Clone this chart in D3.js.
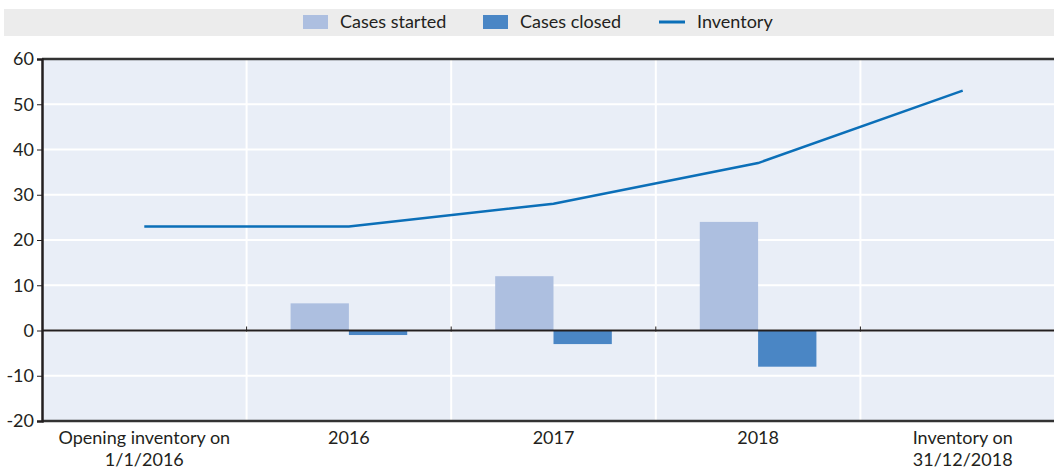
<!DOCTYPE html>
<html>
<head>
<meta charset="utf-8">
<script src="https://cdn.jsdelivr.net/npm/d3@7"></script>
<style>
  body { margin: 0; background: #fff; }
  svg text { font-family: Lato, "Open Sans", sans-serif; fill: #231f20; }
</style>
</head>
<body>
<svg id="chart" width="1054" height="470"></svg>
<script>
var categories = ["Opening inventory on\n1/1/2016", "2016", "2017", "2018", "Inventory on\n31/12/2018"];
var casesStarted = [null, 6, 12, 24, null];
var casesClosed = [null, -1, -3, -8, null];
var inventory = [23, 23, 28, 37, 53];
var yTicks = [-20, -10, 0, 10, 20, 30, 40, 50, 60];

var margin = { top: 59, left: 42 };
var plotW = 1023, plotH = 362;

var svg = d3.select("#chart");

// legend strip
svg.append("rect")
    .attr("x", 4).attr("y", 9)
    .attr("width", 1050).attr("height", 27)
    .attr("fill", "#ececec");

var legend = [
    { name: "Cases started", color: "#adbfe0", type: "box", x: 303 },
    { name: "Cases closed", color: "#4a86c5", type: "box", x: 483 },
    { name: "Inventory", color: "#0b6fb8", type: "line", x: 659 }
];
var lg = svg.selectAll("g.leg").data(legend).enter().append("g")
    .attr("transform", function(d) { return "translate(" + d.x + ",22)"; });
lg.filter(function(d) { return d.type === "box"; }).append("rect")
    .attr("x", 0).attr("y", -7).attr("width", 25).attr("height", 14)
    .attr("fill", function(d) { return d.color; });
lg.filter(function(d) { return d.type === "line"; }).append("line")
    .attr("x1", 0).attr("x2", 26).attr("y1", 0).attr("y2", 0)
    .attr("stroke", function(d) { return d.color; }).attr("stroke-width", 3);
lg.append("text")
    .attr("x", function(d) { return d.type === "box" ? 37 : 38; })
    .attr("y", 6)
    .attr("font-size", "18px")
    .text(function(d) { return d.name; });

var g = svg.append("g").attr("transform", "translate(" + margin.left + "," + margin.top + ")");

var x = d3.scaleBand().domain(d3.range(categories.length)).range([0, plotW]);
var y = d3.scaleLinear().domain([-20, 60]).range([plotH, 0]);

g.append("rect").attr("width", plotW).attr("height", plotH).attr("fill", "#e9eef7");

// horizontal grid
g.selectAll("line.hg").data(yTicks).enter().append("line")
    .attr("x1", 0).attr("x2", plotW)
    .attr("y1", function(d) { return y(d); }).attr("y2", function(d) { return y(d); })
    .attr("stroke", "#fff").attr("stroke-width", 2);

// vertical grid at category boundaries
g.selectAll("line.vg").data(d3.range(1, categories.length)).enter().append("line")
    .attr("x1", function(i) { return x(i); }).attr("x2", function(i) { return x(i); })
    .attr("y1", 0).attr("y2", plotH)
    .attr("stroke", "#fff").attr("stroke-width", 2);

var barW = x.bandwidth() * 0.285;

g.selectAll("rect.started").data(casesStarted).enter()
    .filter(function(d) { return d !== null; })
    .append("rect")
    .attr("x", function(d) { return x(casesStarted.indexOf(d)) + x.bandwidth() / 2 - barW; })
    .attr("y", function(d) { return y(Math.max(0, d)); })
    .attr("width", barW)
    .attr("height", function(d) { return Math.abs(y(d) - y(0)); })
    .attr("fill", "#adbfe0");

g.selectAll("rect.closed").data(casesClosed).enter()
    .filter(function(d) { return d !== null; })
    .append("rect")
    .attr("x", function(d) { return x(casesClosed.indexOf(d)) + x.bandwidth() / 2; })
    .attr("y", function(d) { return y(Math.max(0, d)); })
    .attr("width", barW)
    .attr("height", function(d) { return Math.abs(y(d) - y(0)); })
    .attr("fill", "#4a86c5");

// zero line
g.append("line").attr("x1", 0).attr("x2", plotW)
    .attr("y1", y(0)).attr("y2", y(0))
    .attr("stroke", "#231f20").attr("stroke-width", 2);
g.selectAll("line.zt").data(d3.range(1, categories.length)).enter().append("line")
    .attr("x1", function(i) { return x(i); }).attr("x2", function(i) { return x(i); })
    .attr("y1", y(0) - 4).attr("y2", y(0) + 1)
    .attr("stroke", "#231f20").attr("stroke-width", 1);

// inventory line
var line = d3.line()
    .x(function(d, i) { return x(i) + x.bandwidth() / 2; })
    .y(function(d) { return y(d); });
g.append("path").datum(inventory)
    .attr("d", line)
    .attr("fill", "none")
    .attr("stroke", "#0b6fb8")
    .attr("stroke-width", 2.5);

// frame: top, bottom
g.append("line").attr("x1", 0).attr("x2", plotW).attr("y1", 0).attr("y2", 0)
    .attr("stroke", "#333").attr("stroke-width", 2.5);
g.append("line").attr("x1", 0).attr("x2", plotW).attr("y1", plotH).attr("y2", plotH)
    .attr("stroke", "#333").attr("stroke-width", 2.5);

// y axis
var yAxis = g.append("g").call(d3.axisLeft(y).tickValues(yTicks).tickFormat(String).tickSize(5).tickPadding(3));
yAxis.select(".domain").attr("stroke", "#231f20").attr("stroke-width", 2.5);
yAxis.selectAll(".tick line").attr("stroke", "#231f20");
yAxis.selectAll(".tick text").attr("font-size", "18px").attr("font-family", "Lato, sans-serif").attr("fill", "#231f20");

// x labels
var xl = g.selectAll("text.xl").data(categories).enter().append("text")
    .attr("text-anchor", "middle")
    .attr("font-size", "18px")
    .attr("transform", function(d, i) { return "translate(" + (x(i) + x.bandwidth() / 2) + "," + (plotH + 23) + ")"; });
xl.selectAll("tspan").data(function(d) { return d.split("\n"); }).enter().append("tspan")
    .attr("x", 0)
    .attr("dy", function(d, i) { return i === 0 ? 0 : 22; })
    .text(function(d) { return d; });
</script>
</body>
</html>
